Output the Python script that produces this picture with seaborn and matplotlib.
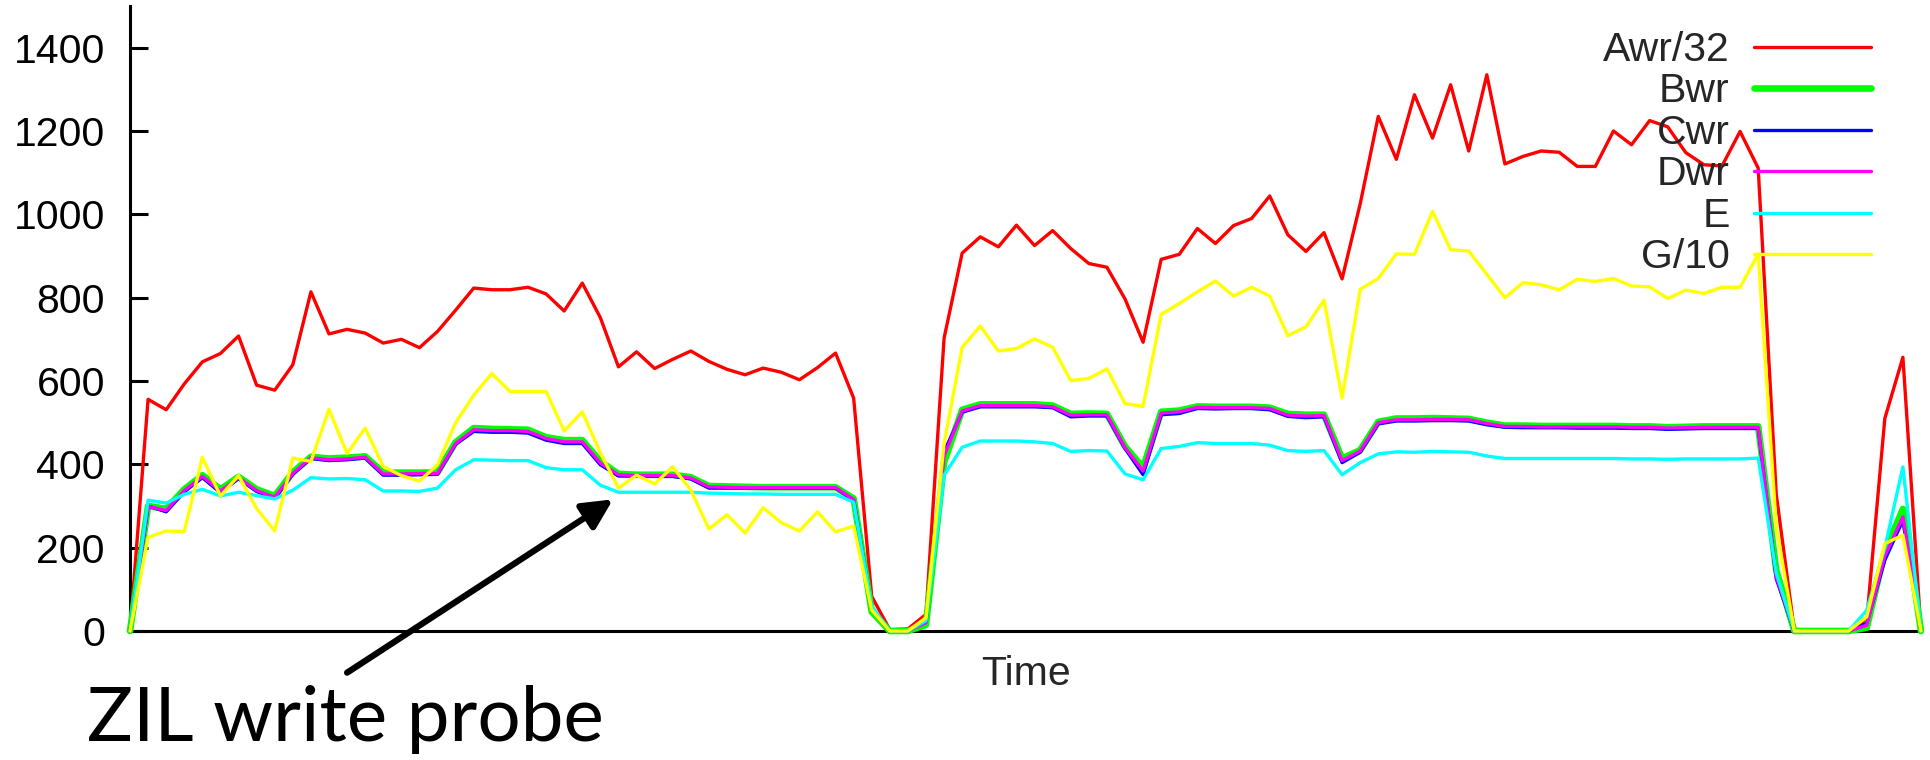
import matplotlib
matplotlib.use("Agg")
import matplotlib.pyplot as plt
import seaborn as sns
import numpy as np
import pandas as pd

# ---- data (one sample per interval) -------------------------------------
awr_32 = [0, 556, 531, 593, 646, 666, 708, 590, 578, 639, 814, 713, 724, 715, 691, 700, 680,
          719, 770, 823, 819, 819, 825, 809, 768, 835, 752, 634, 670, 630, 652, 672, 647,
          628, 615, 631, 621, 603, 632, 667, 559, 83, 3, 5, 40, 703, 907, 946, 922, 974,
          925, 961, 918, 882, 873, 797, 693, 892, 904, 966, 930, 973, 990, 1044, 951, 911,
          956, 845, 1025, 1235, 1132, 1287, 1183, 1311, 1152, 1335, 1121, 1139, 1152, 1149,
          1115, 1115, 1200, 1167, 1225, 1210, 1148, 1119, 1116, 1199, 1111, 328, 0, 0, 0, 0,
          25, 510, 657, 0]

bwr = [0, 300, 293, 340, 374, 340, 370, 340, 324, 381, 418, 414, 416, 419, 380, 380, 380,
       381, 453, 487, 485, 484, 483, 465, 458, 458, 407, 377, 375, 375, 375, 369, 348,
       347, 346, 345, 345, 345, 345, 345, 318, 46, 0, 0, 15, 405, 531, 544, 544, 544,
       544, 541, 521, 522, 521, 443, 392, 526, 529, 539, 538, 538, 538, 536, 521, 519,
       519, 414, 434, 502, 510, 510, 511, 510, 509, 500, 493, 493, 492, 492, 492, 492, 492,
       491, 491, 489, 490, 491, 491, 491, 491, 145, 0, 0, 0, 0, 8, 190, 293, 0]

cwr = [0, 300, 286, 334, 368, 332, 366, 335, 318, 376, 414, 409, 411, 415, 374, 374, 375,
       376, 448, 479, 477, 477, 475, 458, 450, 450, 399, 372, 372, 371, 371, 365, 343,
       343, 343, 343, 343, 343, 343, 343, 314, 55, 0, 0, 25, 430, 525, 538, 538, 538,
       538, 536, 514, 516, 516, 438, 375, 519, 522, 534, 533, 534, 534, 531, 515, 512,
       514, 404, 429, 497, 504, 504, 505, 505, 504, 495, 489, 488, 488, 488, 487, 487, 487,
       486, 486, 484, 485, 486, 486, 486, 486, 125, 0, 0, 0, 0, 18, 170, 266, 0]

dwr = [0, 299, 289, 337, 371, 336, 368, 337, 321, 378, 416, 411, 413, 417, 377, 377, 378,
       378, 450, 483, 481, 481, 479, 462, 454, 454, 403, 375, 373, 373, 373, 367, 346,
       345, 344, 344, 344, 344, 344, 344, 316, 50, 0, 0, 20, 420, 528, 541, 541, 541,
       541, 538, 518, 519, 519, 440, 384, 523, 526, 537, 536, 536, 536, 534, 518, 516,
       517, 409, 432, 500, 507, 507, 508, 508, 507, 498, 491, 491, 490, 490, 490, 490, 490,
       489, 489, 487, 488, 489, 489, 489, 489, 130, 0, 0, 0, 0, 14, 180, 274, 0]

e_vals = [0, 314, 307, 328, 340, 324, 333, 325, 317, 338, 368, 365, 366, 363, 336, 336, 335,
          343, 387, 411, 410, 409, 409, 392, 387, 387, 350, 333, 333, 333, 333, 333, 331,
          330, 329, 329, 328, 328, 328, 328, 309, 60, 0, 0, 25, 374, 441, 456, 456, 456,
          454, 450, 431, 433, 432, 377, 363, 438, 443, 452, 450, 450, 450, 446, 433, 431,
          433, 375, 404, 425, 430, 429, 431, 430, 429, 420, 414, 414, 414, 414, 414, 414, 414,
          413, 413, 412, 413, 413, 413, 413, 415, 139, 0, 0, 0, 0, 50, 200, 394, 0]

g_10 = [0, 225, 240, 239, 417, 324, 373, 294, 240, 415, 407, 532, 426, 487, 395, 373, 360,
        399, 500, 566, 618, 575, 575, 575, 480, 526, 428, 343, 374, 353, 394, 338, 245,
        279, 235, 296, 260, 240, 286, 238, 252, 50, 0, 0, 32, 450, 681, 732, 672, 678,
        701, 681, 601, 606, 629, 546, 539, 760, 786, 814, 840, 804, 825, 804, 709, 730,
        794, 559, 820, 846, 905, 904, 1007, 915, 912, 856, 800, 836, 831, 819, 844, 839, 846,
        828, 826, 798, 818, 810, 825, 825, 905, 250, 0, 0, 0, 0, 34, 210, 230, 0]

labels = ["Awr/32", "Bwr", "Cwr", "Dwr", "E", "G/10"]
y_ticks = [0, 200, 400, 600, 800, 1000, 1200, 1400]

series = [awr_32, bwr, cwr, dwr, e_vals, g_10]
colors = ["#ff0000", "#00ff00", "#0000ff", "#ff00ff", "#00ffff", "#ffff00"]
widths = [2.4, 4.8, 2.4, 2.4, 2.4, 2.4]

time = np.arange(len(awr_32))
frame = pd.DataFrame({"Time": time})
for lab, vals in zip(labels, series):
    frame[lab] = vals

# ---- figure ---------------------------------------------------------------
sns.set_style("white")
plt.rcParams["font.family"] = ["Liberation Sans", "DejaVu Sans"]

W, H = 1930, 760
TXT = 29.5
fig = plt.figure(figsize=(W / 100, H / 100), dpi=100)
ax = fig.add_axes([130 / W, 129 / H, 1791 / W, 625 / H])

for lab, col, lw in zip(labels, colors, widths):
    sns.lineplot(data=frame, x="Time", y=lab, color=col, linewidth=lw,
                 label=lab, ax=ax, clip_on=False)

ax.set_xlim(0, len(awr_32) - 1)
ax.set_ylim(0, 1500)
ax.set_xticks([])
ax.set_yticks(y_ticks)
ax.set_yticklabels([str(t) for t in y_ticks])
ax.tick_params(axis="y", direction="in", length=13, width=2.2, pad=18,
               labelsize=TXT, left=True, colors="black")
ax.set_ylabel("")
ax.set_xlabel("Time", fontsize=TXT, labelpad=17)

for side in ["top", "right"]:
    ax.spines[side].set_visible(False)
for side in ["left", "bottom"]:
    ax.spines[side].set_linewidth(2.2)
    ax.spines[side].set_color("black")
    ax.spines[side].set_zorder(1)

leg = ax.legend(loc="upper right", bbox_to_anchor=(1871 / W, 1 - 31 / H),
                bbox_transform=fig.transFigure, frameon=False, markerfirst=False,
                fontsize=TXT, handlelength=2.85, handletextpad=0.6,
                labelspacing=0.085, borderpad=0, borderaxespad=0)
for line in leg.get_lines():
    line.set_clip_on(False)

# ---- annotation -------------------------------------------------------------
arrow_tip = (26.7, 316)
arrow_tail = (12.0, -100)
ax.annotate("", xy=arrow_tip, xytext=arrow_tail, xycoords="data",
            arrowprops=dict(arrowstyle="-|>,head_length=0.6,head_width=0.3",
                            color="black", lw=4.5, shrinkA=0, shrinkB=0,
                            mutation_scale=30),
            annotation_clip=False)
fig.text(87 / W, 19 / H, "ZIL write probe", fontsize=55, family=["Lato", "DejaVu Sans"],
         ha="left", va="baseline", color="black")

fig.savefig("out.png", dpi=100)
